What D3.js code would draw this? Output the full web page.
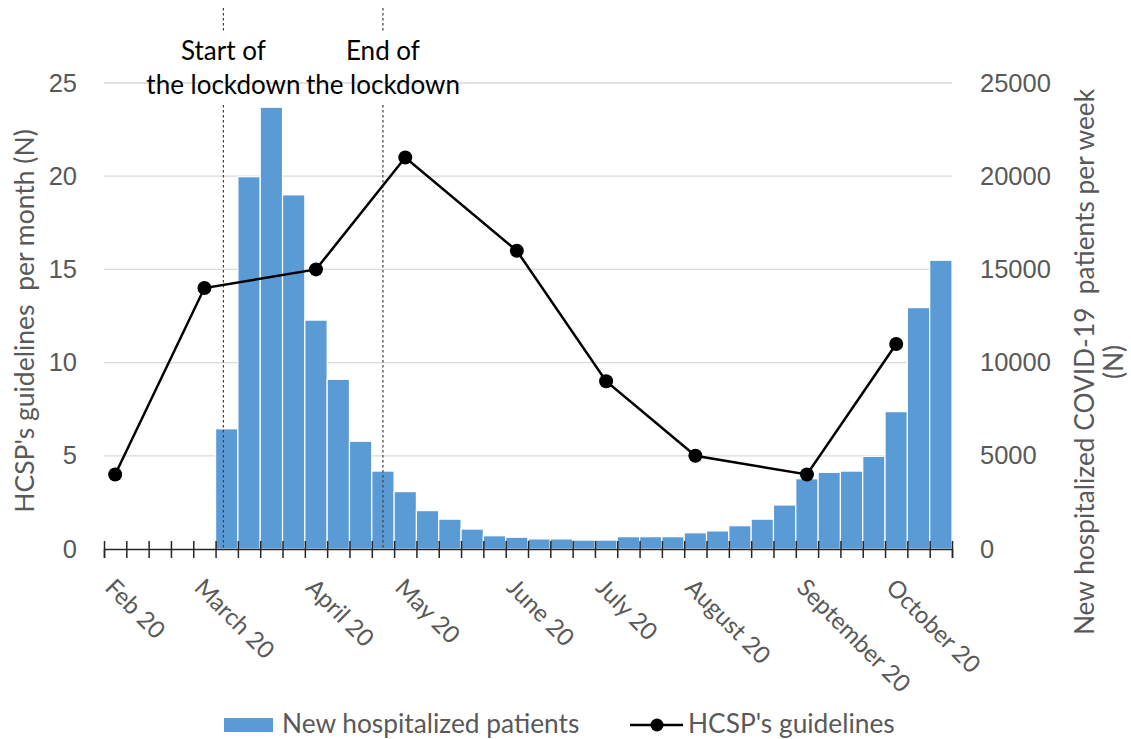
<!DOCTYPE html>
<html>
<head>
<meta charset="utf-8">
<script src="https://cdn.jsdelivr.net/npm/d3@7"></script>
<style>
  body { margin: 0; background: #fff; }
  svg { display: block; font-family: Lato, "Open Sans", sans-serif; }
</style>
</head>
<body>
<svg id="chart" width="1131" height="739"></svg>
<script>
// weekly categories, Feb 2020 -> end Oct 2020
const weekCount = 38;
// new hospitalized COVID-19 patients per week (null = no data)
const weeklyPatients = [null, null, null, null, null,
  6450, 19970, 23700, 19000, 12280, 9100, 5780, 4180, 3080, 2060, 1600,
  1070, 710, 630, 540, 540, 480, 480, 660, 660, 660, 870, 970, 1250,
  1600, 2360, 3770, 4110, 4180, 4970, 7370, 12950, 15490];
// monthly HCSP guidelines, placed on the week of each month label
const monthWeeks = [0, 4, 9, 13, 18, 22, 26, 31, 35];
const monthLabels = ["Feb 20", "March 20", "April 20", "May 20", "June 20",
  "July 20", "August 20", "September 20", "October 20"];
const guidelines = [4, 14, 15, 21, 16, 9, 5, 4, 11];
// lockdown markers (fractional week position)
const lockdownWeeks = [5.35, 12.5];
const lockdownLabels = [["Start of", "the lockdown"], ["End of", "the lockdown"]];
const leftTicks = [0, 5, 10, 15, 20, 25];
const rightTicks = [0, 5000, 10000, 15000, 20000, 25000];

const svg = d3.select("#chart");
const plotL = 104, plotR = 952, plotT = 83, plotB = 549;
const grey = "#595959", blue = "#5b9bd5";

const x = d3.scaleLinear().domain([0, weekCount]).range([plotL, plotR]);
const yL = d3.scaleLinear().domain([0, 25]).range([plotB, plotT]);
const yR = d3.scaleLinear().domain([0, 25000]).range([plotB, plotT]);

// gridlines
svg.append("g")
  .selectAll("line")
  .data(leftTicks.slice(1))
  .join("line")
  .attr("x1", plotL).attr("x2", plotR)
  .attr("y1", d => yL(d)).attr("y2", d => yL(d))
  .attr("stroke", "#d9d9d9").attr("stroke-width", 1.3);

// bars
svg.append("g")
  .selectAll("rect")
  .data(weeklyPatients.map((v, i) => ({ v, i })).filter(d => d.v != null))
  .join("rect")
  .attr("x", d => x(d.i))
  .attr("width", d => x(d.i + 1) - x(d.i))
  .attr("y", d => yR(d.v))
  .attr("height", d => yR(0) - yR(d.v))
  .attr("fill", blue)
  .attr("stroke", "#fff")
  .attr("stroke-width", 1.2);

// lockdown dashed lines (broken where the labels sit)
lockdownWeeks.forEach(w => {
  [[8, 32], [105, plotB]].forEach(([a, b]) => {
    svg.append("line")
      .attr("x1", x(w)).attr("x2", x(w))
      .attr("y1", a).attr("y2", b)
      .attr("stroke", "#404040").attr("stroke-width", 1.2)
      .attr("stroke-dasharray", "2.5,2.5");
  });
});

lockdownLabels.forEach((lines, k) => {
  const t = svg.append("text")
    .attr("text-anchor", "middle")
    .attr("font-size", 26)
    .attr("fill", "#000");
  lines.forEach((s, j) => {
    t.append("tspan").attr("x", x(lockdownWeeks[k])).attr("y", 60 + j * 34).text(s);
  });
});

// x axis, ticks crossing the line
const xAxis = svg.append("g")
  .attr("transform", `translate(0,${plotB})`)
  .call(d3.axisBottom(x).tickValues(d3.range(weekCount + 1)).tickSize(9).tickFormat(""));
xAxis.select(".domain").attr("stroke", "#262626").attr("stroke-width", 1.5);
xAxis.selectAll(".tick line").attr("y1", -8).attr("stroke", "#262626").attr("stroke-width", 1.5);

svg.append("g")
  .selectAll("text")
  .data(monthLabels)
  .join("text")
  .attr("transform", (d, i) => `translate(${x(monthWeeks[i] + 0.5) - 11.5},589) rotate(45)`)
  .attr("font-size", 24)
  .attr("fill", grey)
  .text(d => d);

// y axes
const axL = svg.append("g")
  .attr("transform", `translate(${plotL},0)`)
  .call(d3.axisLeft(yL).tickValues(leftTicks).tickSize(0).tickPadding(27));
const axR = svg.append("g")
  .attr("transform", `translate(${plotR},0)`)
  .call(d3.axisRight(yR).tickValues(rightTicks).tickSize(0).tickPadding(28).tickFormat(d3.format("d")));
[axL, axR].forEach(a => {
  a.select(".domain").remove();
  a.selectAll("text").attr("font-size", 25.5).attr("fill", grey).attr("font-family", null);
});

// axis titles
svg.append("text")
  .attr("transform", "translate(34,321) rotate(-90)")
  .attr("text-anchor", "middle")
  .attr("font-size", 26.5)
  .attr("fill", grey)
  .attr("xml:space", "preserve")
  .text("HCSP's guidelines  per month (N)");

const rt = svg.append("text")
  .attr("transform", "translate(1094,362) rotate(-90)")
  .attr("text-anchor", "middle")
  .attr("font-size", 26.3)
  .attr("fill", grey)
  .attr("xml:space", "preserve");
rt.append("tspan").attr("x", 0).attr("y", 0).text("New hospitalized COVID-19  patients per week");
rt.append("tspan").attr("x", 0).attr("y", 29).text("(N)");

// guideline line
const pts = guidelines.map((v, i) => [x(monthWeeks[i] + 0.5), yL(v)]);
svg.append("path")
  .attr("d", d3.line()(pts))
  .attr("fill", "none")
  .attr("stroke", "#000")
  .attr("stroke-width", 2.5);
svg.append("g")
  .selectAll("circle")
  .data(pts)
  .join("circle")
  .attr("cx", d => d[0]).attr("cy", d => d[1])
  .attr("r", 7)
  .attr("fill", "#000");

// legend
const lg = svg.append("g").attr("font-size", 26.3).attr("fill", grey);
lg.append("rect").attr("x", 224).attr("y", 718).attr("width", 49).attr("height", 14).attr("fill", blue);
lg.append("text").attr("x", 282).attr("y", 733).text("New hospitalized patients");
lg.append("line").attr("x1", 630).attr("x2", 683).attr("y1", 725).attr("y2", 725)
  .attr("stroke", "#000").attr("stroke-width", 2.5);
lg.append("circle").attr("cx", 657).attr("cy", 725).attr("r", 6.5).attr("fill", "#000");
lg.append("text").attr("x", 688).attr("y", 733).text("HCSP's guidelines");
</script>
</body>
</html>
